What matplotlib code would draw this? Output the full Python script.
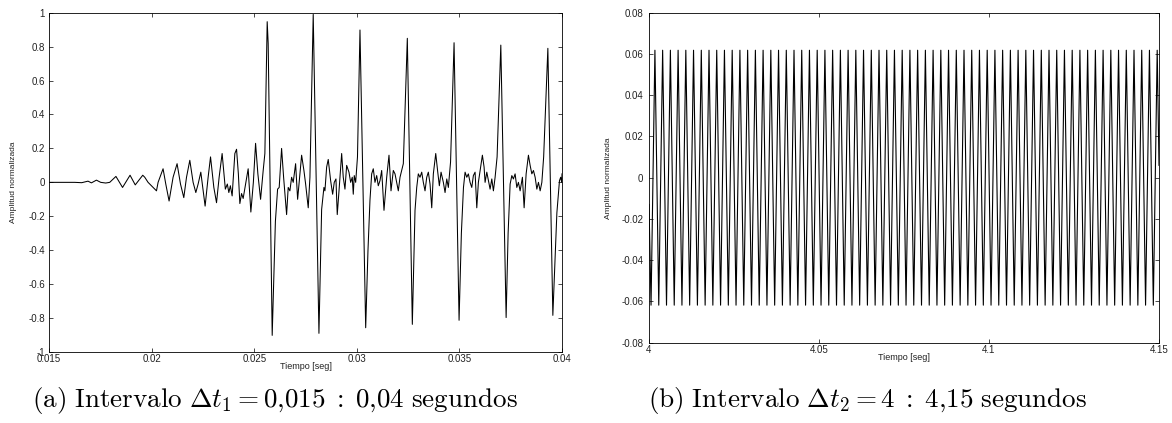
"""Two MATLAB-style waveform panels with LaTeX-like subcaptions."""
import matplotlib
matplotlib.use("Agg")
import matplotlib.pyplot as plt
import matplotlib.ticker as mticker

W, H = 1172, 423
LINE_CLR = "#000000"
TEXT_CLR = "#222222"

# ── (a) waveform 0.015 : 0.04 s, traced extrema ──────────────────────────────
T1 = [
    0.015000, 0.016252, 0.016594, 0.016901, 0.017067, 0.017311, 0.017520, 0.017764,
    0.017959, 0.018262, 0.018584, 0.018950, 0.019203, 0.019569, 0.019667, 0.019828,
    0.019994, 0.020238, 0.020316, 0.020559, 0.020691, 0.020852, 0.021047, 0.021242,
    0.021408, 0.021569, 0.021701, 0.021862, 0.022023, 0.022155, 0.022267, 0.022398,
    0.022511, 0.022608, 0.022755, 0.022872, 0.023033, 0.023164, 0.023291, 0.023437,
    0.023594, 0.023691, 0.023764, 0.023838, 0.023925, 0.024057, 0.024140, 0.024228,
    0.024301, 0.024384, 0.024462, 0.024594, 0.024706, 0.024837, 0.024959, 0.025067,
    0.025179, 0.025311, 0.025438, 0.025520, 0.025633, 0.025681, 0.025877, 0.026033,
    0.026140, 0.026218, 0.026335, 0.026433, 0.026579, 0.026657, 0.026740, 0.026823,
    0.026901, 0.027018, 0.027116, 0.027311, 0.027423, 0.027506, 0.027633, 0.027716,
    0.027876, 0.028155, 0.028286, 0.028398, 0.028447, 0.028530, 0.028608, 0.028725,
    0.028823, 0.028901, 0.028984, 0.029047, 0.029145, 0.029262, 0.029340, 0.029423,
    0.029506, 0.029618, 0.029701, 0.029779, 0.029828, 0.029876, 0.029945, 0.030033,
    0.030155, 0.030433, 0.030545, 0.030642, 0.030725, 0.030803, 0.030886, 0.030969,
    0.031047, 0.031130, 0.031213, 0.031325, 0.031457, 0.031569, 0.031667, 0.031779,
    0.031862, 0.031945, 0.032023, 0.032106, 0.032189, 0.032267, 0.032462, 0.032706,
    0.032837, 0.032920, 0.032998, 0.033081, 0.033164, 0.033242, 0.033325, 0.033408,
    0.033486, 0.033569, 0.033652, 0.033730, 0.033847, 0.033945, 0.034023, 0.034106,
    0.034218, 0.034301, 0.034384, 0.034462, 0.034569, 0.034740, 0.034984, 0.035096,
    0.035198, 0.035277, 0.035359, 0.035437, 0.035520, 0.035603, 0.035681, 0.035764,
    0.035847, 0.035925, 0.036008, 0.036120, 0.036203, 0.036252, 0.036335, 0.036413,
    0.036496, 0.036579, 0.036657, 0.036740, 0.036837, 0.037018, 0.037277, 0.037374,
    0.037472, 0.037555, 0.037632, 0.037715, 0.037798, 0.037876, 0.037959, 0.038071,
    0.038154, 0.038252, 0.038364, 0.038447, 0.038530, 0.038608, 0.038691, 0.038774,
    0.038852, 0.038935, 0.039018, 0.039106, 0.039311, 0.039554, 0.039750, 0.039877,
    0.039935, 0.039984, 0.040000,
]
A1 = [
    0.0, 0.0, -0.002, 0.007, -0.003, 0.013, 0.0, -0.004,
    0.0, 0.035, -0.03, 0.042, -0.015, 0.042, 0.03, 0.0,
    -0.02, -0.05, 0.0, 0.08, -0.01, -0.11, 0.03, 0.11,
    -0.01, -0.09, 0.03, 0.13, 0.0, -0.06, -0.01, 0.06,
    -0.05, -0.14, 0.03, 0.15, -0.03, -0.12, 0.03, 0.17,
    -0.04, -0.01, -0.06, -0.02, -0.08, 0.17, 0.195, 0.05,
    -0.125, -0.066, -0.095, 0.0, 0.08, -0.175, 0.0, 0.23,
    0.05, -0.10, 0.07, 0.17, 0.947, 0.82, -0.902, -0.23,
    -0.04, -0.03, 0.20, 0.03, -0.19, -0.03, -0.05, 0.03,
    0.0, 0.11, -0.10, 0.16, 0.07, -0.01, -0.15, 0.03,
    0.99, -0.89, -0.16, -0.03, -0.05, 0.09, 0.135, 0.01,
    -0.07, 0.0, 0.02, -0.19, -0.03, 0.17, 0.03, -0.04,
    0.10, 0.06, 0.0, 0.03, -0.07, 0.04, 0.0, 0.15,
    0.898, -0.857, -0.4, -0.105, 0.05, 0.08, 0.0, 0.04,
    -0.02, 0.01, 0.07, -0.165, 0.03, 0.16, -0.05, 0.07,
    0.05, 0.0, -0.05, 0.03, 0.07, 0.11, 0.849, -0.837,
    -0.165, -0.03, 0.05, 0.03, 0.06, 0.0, -0.05, 0.03,
    0.06, -0.01, -0.15, 0.05, 0.17, 0.06, -0.02, 0.06,
    0.0, -0.06, 0.02, -0.03, 0.12, 0.823, -0.813, -0.3,
    -0.03, 0.06, 0.03, 0.05, 0.0, -0.03, 0.04, 0.06,
    -0.15, 0.0, 0.07, 0.16, 0.09, 0.0, 0.06, 0.01,
    -0.04, 0.02, -0.05, 0.03, 0.15, 0.809, -0.797, -0.3,
    -0.01, 0.04, 0.02, 0.05, -0.03, 0.0, -0.05, 0.03,
    -0.15, 0.05, 0.16, 0.10, 0.05, 0.07, 0.03, -0.04,
    0.0, -0.05, 0.0, 0.15, 0.79, -0.784, -0.18, 0.01,
    0.03, 0.0, 0.05,
]

# ── (b) steady tone 4 : 4.15 s, peak / trough times ─────────────────────────
PEAK_T = [
    4.00174, 4.00401, 4.00629, 4.00856, 4.01083, 4.01310, 4.01538, 4.01765,
    4.01992, 4.02219, 4.02447, 4.02674, 4.02901, 4.03129, 4.03356, 4.03583,
    4.03810, 4.04038, 4.04265, 4.04492, 4.04719, 4.04947, 4.05174, 4.05401,
    4.05629, 4.05856, 4.06083, 4.06310, 4.06538, 4.06765, 4.06992, 4.07219,
    4.07447, 4.07674, 4.07901, 4.08129, 4.08356, 4.08583, 4.08810, 4.09038,
    4.09265, 4.09492, 4.09719, 4.09947, 4.10174, 4.10401, 4.10629, 4.10856,
    4.11083, 4.11310, 4.11538, 4.11765, 4.11992, 4.12219, 4.12447, 4.12674,
    4.12901, 4.13129, 4.13356, 4.13583, 4.13810, 4.14038, 4.14265, 4.14492,
    4.14719, 4.14947,
]
TROUGH_T = [
    4.00060, 4.00287, 4.00515, 4.00742, 4.00969, 4.01196, 4.01424, 4.01651,
    4.01878, 4.02105, 4.02333, 4.02560, 4.02787, 4.03015, 4.03242, 4.03469,
    4.03696, 4.03924, 4.04151, 4.04378, 4.04605, 4.04833, 4.05060, 4.05287,
    4.05515, 4.05742, 4.05969, 4.06196, 4.06424, 4.06651, 4.06878, 4.07105,
    4.07333, 4.07560, 4.07787, 4.08015, 4.08242, 4.08469, 4.08696, 4.08924,
    4.09151, 4.09378, 4.09605, 4.09833, 4.10060, 4.10287, 4.10515, 4.10742,
    4.10969, 4.11196, 4.11424, 4.11651, 4.11878, 4.12105, 4.12333, 4.12560,
    4.12787, 4.13015, 4.13242, 4.13469, 4.13696, 4.13924, 4.14151, 4.14378,
    4.14605, 4.14833,
]
PEAK_A = 0.0618
TROUGH_A = -0.0618
EDGE_T = [4.0, 4.15]
EDGE_A = [-0.013, 0.006]

CAPTION_A = r"$\mathrm{(a)\ Intervalo}\ \Delta t_1 = 0{,}015\;:\;0{,}04\ \mathrm{segundos}$"
CAPTION_B = r"$\mathrm{(b)\ Intervalo}\ \Delta t_2 = 4\;:\;4{,}15\ \mathrm{segundos}$"


def px_rect(x0, y_top, x1, y_bot):
    return [x0 / W, (H - y_bot) / H, (x1 - x0) / W, (y_bot - y_top) / H]


def style_axes(ax, xpad, ypad):
    for spine in ax.spines.values():
        spine.set_linewidth(0.6)
        spine.set_color("black")
    ax.tick_params(direction="in", length=3, width=0.5, top=True, right=True,
                   labelsize=7, labelcolor=TEXT_CLR)
    ax.tick_params(axis="x", pad=xpad)
    ax.tick_params(axis="y", pad=ypad)
    fmt = mticker.FuncFormatter(lambda v, _: f"{v:g}")
    ax.xaxis.set_major_formatter(fmt)
    ax.yaxis.set_major_formatter(fmt)


plt.rcParams["font.family"] = ["Liberation Sans", "DejaVu Sans"]
plt.rcParams["mathtext.fontset"] = "cm"

fig = plt.figure(figsize=(W / 100, H / 100), dpi=100, facecolor="white")

# ── panel (a) ────────────────────────────────────────────────────────────
ax1 = fig.add_axes(px_rect(49, 12.7, 562, 352))
ax1.plot(T1, A1, color=LINE_CLR, linewidth=0.75)
ax1.set_xlim(0.015, 0.04)
ax1.set_ylim(-1, 1)
ax1.set_xticks([0.015, 0.02, 0.025, 0.03, 0.035, 0.04])
ax1.set_yticks([-1, -0.8, -0.6, -0.4, -0.2, 0, 0.2, 0.4, 0.6, 0.8, 1])
style_axes(ax1, xpad=1.5, ypad=3)

# ── panel (b) ────────────────────────────────────────────────────────────
pts = sorted(list(zip(PEAK_T, [PEAK_A] * len(PEAK_T)))
             + list(zip(TROUGH_T, [TROUGH_A] * len(TROUGH_T)))
             + list(zip(EDGE_T, EDGE_A)))
t2 = [p[0] for p in pts]
a2 = [p[1] for p in pts]

ax2 = fig.add_axes(px_rect(649, 12.7, 1159, 342.7))
ax2.plot(t2, a2, color=LINE_CLR, linewidth=0.8)
ax2.set_xlim(4.0, 4.15)
ax2.set_ylim(-0.08, 0.08)
ax2.set_xticks([4.0, 4.05, 4.1, 4.15])
ax2.set_yticks([-0.08, -0.06, -0.04, -0.02, 0, 0.02, 0.04, 0.06, 0.08])
style_axes(ax2, xpad=2, ypad=4)

# ── axis labels (placed like the MATLAB export) ──────────────────────────
for x, y in [(305.5, 366), (904, 357)]:
    fig.text(x / W, (H - y) / H, "Tiempo [seg]", ha="center", va="center",
             fontsize=6.5, color=TEXT_CLR)
for x, y in [(13.5, 182), (609, 178)]:
    fig.text(x / W, (H - y) / H, "Amplitud normalizada", ha="center", va="center",
             rotation=90, fontsize=6, color=TEXT_CLR)

# ── subcaptions ──────────────────────────────────────────────────────────
fig.text(275 / W, (H - 400) / H, CAPTION_A, ha="center", va="center",
         fontsize=19.5, color="black")
fig.text(868 / W, (H - 400) / H, CAPTION_B, ha="center", va="center",
         fontsize=19.5, color="black")

fig.savefig("out.png", dpi=100, facecolor="white")
